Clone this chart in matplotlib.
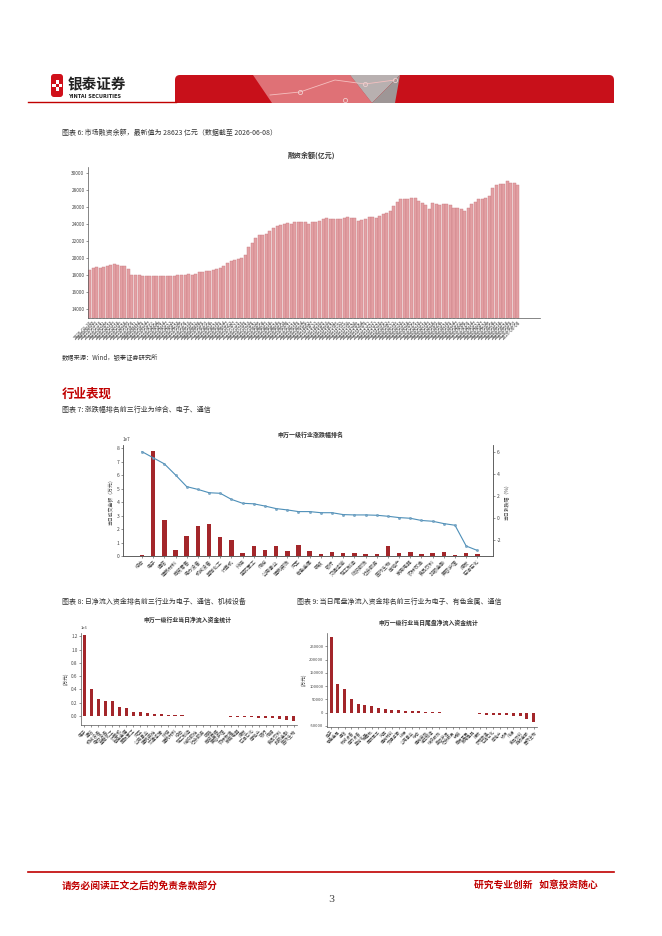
"""
Page 3 of the Yintai Securities weekly: margin balance + Shenwan industry panels.
"""
import numpy as np
import pandas as pd
import matplotlib
matplotlib.use("Agg")
import matplotlib.pyplot as plt
from matplotlib.patches import Polygon, FancyBboxPatch, Rectangle

plt.rcParams["font.family"] = ["Noto Sans CJK SC", "DejaVu Sans"]
plt.rcParams["axes.unicode_minus"] = False

W, H = 662, 936
RED = "#c00000"
BAR_RED = "#a3262a"
TXT = "#333333"

# ------------------------------------------------------------------
# data
# ------------------------------------------------------------------
margin_balance = [
    18670, 18900, 18950, 18870, 18950, 19100, 19200, 19340, 19250, 19150,
    19080, 18800, 18050, 18000, 18010, 17970, 17950, 17880, 17950, 17970,
    17960, 17980, 17960, 17950, 17960, 18010, 18040, 18080, 18150, 17990,
    18200, 18400, 18430, 18460, 18500, 18600, 18700, 18850, 19100, 19450,
    19680, 19750, 19900, 20030, 20400, 21300, 21800, 22350, 22750, 22680,
    22900, 23200, 23600, 23800, 23900, 24000, 24100, 24000, 24200, 24250,
    24280, 24300, 24050, 24200, 24300, 24400, 24650, 24780, 24600, 24620,
    24650, 24660, 24700, 24800, 24750, 24680, 24400, 24520, 24600, 24850,
    24800, 24780, 24950, 25200, 25300, 25600, 26100, 26550, 26950, 26900,
    26950, 27050, 27100, 26750, 26450, 26300, 25800, 26450, 26350, 26250,
    26400, 26350, 26200, 25950, 25900, 25800, 25550, 25900, 26350, 26600,
    26900, 27000, 27050, 27300, 28200, 28600, 28700, 28750, 29100, 28850,
    28850, 28623,
]
margin_dates = pd.bdate_range(end="2026-06-08", periods=len(margin_balance) * 3,
                              freq="B")[2::3].strftime("%Y-%m-%d").tolist()

rank_industries = [
    "综合", "电子", "通信", "建筑材料", "商贸零售", "电力设备", "机械设备",
    "基础化工", "计算机", "环保", "国防军工", "传媒", "公用事业", "建筑装饰",
    "汽车", "有色金属", "钢铁", "银行", "交通运输", "轻工制造", "纺织服饰",
    "社会服务", "医药生物", "房地产", "家用电器", "农林牧渔", "食品饮料",
    "非银金融", "美容护理", "煤炭", "石油石化",
]
rank_turnover = [  # 1e7 万元
    0.05, 7.80, 2.68, 0.42, 1.50, 2.25, 2.35, 1.38, 1.17, 0.22, 0.72,
    0.45, 0.75, 0.35, 0.80, 0.37, 0.12, 0.32, 0.20, 0.22, 0.12, 0.12,
    0.75, 0.25, 0.27, 0.12, 0.20, 0.27, 0.05, 0.22, 0.17,
]
rank_change = [  # %
    6.00, 5.45, 4.90, 3.90, 2.85, 2.60, 2.30, 2.25, 1.70, 1.35, 1.30,
    1.10, 0.87, 0.75, 0.60, 0.60, 0.50, 0.50, 0.33, 0.30, 0.30, 0.27,
    0.18, 0.06, 0.00, -0.20, -0.27, -0.48, -0.63, -2.50, -2.90,
]

inflow_industries = [
    "电子", "通信", "机械设备", "电力设备", "基础化工", "计算机", "有色金属",
    "国防军工", "汽车", "公用事业", "建筑装饰", "交通运输", "环保", "建筑材料",
    "综合", "轻工制造", "纺织服饰", "社会服务", "钢铁", "商贸零售", "美容护理",
    "农林牧渔", "家用电器", "煤炭", "石油石化", "房地产", "银行", "传媒",
    "食品饮料", "非银金融", "医药生物",
]
inflow_values = [  # 1e6 万元
    1.22, 0.40, 0.25, 0.22, 0.22, 0.14, 0.12, 0.06, 0.06, 0.045, 0.035,
    0.03, 0.02, 0.015, 0.01, 0.005, 0.002, 0.001, -0.002, -0.004, -0.006,
    -0.008, -0.010, -0.015, -0.020, -0.025, -0.030, -0.035, -0.040, -0.055,
    -0.080,
]

tail_industries = [
    "电子", "有色金属", "通信", "机械设备", "电力设备", "基础化工", "计算机",
    "国防军工", "汽车", "建筑材料", "交通运输", "环保", "公用事业", "综合",
    "建筑装饰", "轻工制造", "纺织服饰", "美容护理", "社会服务", "钢铁",
    "商贸零售", "家用电器", "煤炭", "农林牧渔", "石油石化", "房地产", "银行",
    "传媒", "食品饮料", "非银金融", "医药生物",
]
tail_values = [  # 万元
    284000, 108000, 87500, 53000, 31700, 29000, 26600, 19000, 15200, 11400,
    10100, 7600, 6300, 5000, 3800, 1500, 800, 300, -300, -800, -1500, -3000,
    -5000, -7600, -8900, -9000, -10000, -11000, -12700, -23000, -37000,
]


# ------------------------------------------------------------------
# helpers
# ------------------------------------------------------------------
def px_axes(fig, left, top, right, bottom):
    return fig.add_axes([left / W, 1 - bottom / H, (right - left) / W,
                         (bottom - top) / H])


def style_ax(ax, fs=3.6):
    for s in ax.spines.values():
        s.set_color("#555555")
        s.set_linewidth(0.5)
    ax.spines["top"].set_visible(False)
    ax.tick_params(labelsize=fs, length=1.5, width=0.4, colors="#444444",
                   pad=1)


fig = plt.figure(figsize=(W / 100, H / 100), dpi=100)
fig.patch.set_facecolor("white")

page = fig.add_axes([0, 0, 1, 1])
page.set_xlim(0, W)
page.set_ylim(H, 0)
page.axis("off")

# ------------------------------------------------------------------
# header
# ------------------------------------------------------------------
page.add_patch(FancyBboxPatch((51, 74), 12, 23, boxstyle="round,pad=0,rounding_size=3",
                              fc="#d0101a", ec="none"))
page.add_patch(Rectangle((55.5, 80), 3, 11, fc="white", ec="none"))
page.add_patch(Rectangle((52, 84), 10, 3, fc="white", ec="none"))
page.add_patch(Rectangle((55.5, 84), 3, 3, fc="#d0101a", ec="none"))
page.text(68, 84, "银泰证券", fontsize=10.5, fontweight="bold", color="#222222",
          va="center", ha="left")
page.text(68, 96.5, "YINTAI SECURITIES", fontsize=3.6, fontweight="bold",
          color="#222222", va="center", ha="left", family="DejaVu Sans")
page.plot([28, 176], [102, 102], color=RED, lw=1.0)

page.add_patch(FancyBboxPatch((175, 75), 439, 28,
                              boxstyle="round,pad=0,rounding_size=5",
                              fc="#c8101a", ec="none"))
page.add_patch(Rectangle((175, 95), 439, 8, fc="#c8101a", ec="none"))
page.add_patch(Polygon([(253, 75), (350, 75), (372, 103), (272, 103)],
                       closed=True, fc="#e58a8e", ec="none", alpha=0.8))
page.add_patch(Polygon([(350, 75), (400, 75), (372, 103)], closed=True,
                       fc="#b8b0b0", ec="none"))
page.add_patch(Polygon([(372, 103), (400, 75), (395, 103)], closed=True,
                       fc="#9e9696", ec="none"))
page.plot([270, 300, 335, 365, 395], [95, 92, 80, 84, 80], color="#f5c0c0",
          lw=0.6)
for cx, cy in [(300, 92), (365, 84), (395, 80), (345, 100)]:
    page.plot(cx, cy, "o", ms=3, mfc="none", mec="#f0d0d0", mew=0.6)

# ------------------------------------------------------------------
# chart 6: margin balance
# ------------------------------------------------------------------
page.text(62, 133, "图表 6: 市场融资余额，最新值为 28623 亿元（数据截至 2026-06-08）",
          fontsize=5, color=TXT, va="center")

ax1 = px_axes(fig, 88, 167, 540, 318)
x1 = np.arange(len(margin_balance))
ax1.bar(x1, margin_balance, width=0.85, color="#e3a0a4", edgecolor="#c97a80",
        linewidth=0.3)
ax1.set_xlim(-0.42, 127.3)
ax1.set_ylim(13000, 30700)
ax1.set_yticks(range(14000, 30001, 2000))
ax1.set_xticks(x1)
ax1.set_xticklabels(margin_dates, rotation=45, ha="right", fontsize=4.2,
                    rotation_mode="anchor", color="#666666")
style_ax(ax1, fs=3.4)
ax1.spines["right"].set_visible(False)
ax1.tick_params(axis="x", length=1.0, width=0.3, pad=0.5)
page.text(311, 155, "融资余额(亿元)", fontsize=5, color=TXT, ha="center",
          va="center", fontweight="bold")
page.text(62, 357, "数据来源：Wind，银泰证券研究所", fontsize=4.5, color=TXT,
          va="center")

# ------------------------------------------------------------------
# chart 7: industry ranking
# ------------------------------------------------------------------
page.text(62, 394, "行业表现", fontsize=9, fontweight="bold", color=RED,
          va="center")
page.text(62, 410, "图表 7: 涨跌幅排名前三行业为综合、电子、通信", fontsize=5,
          color=TXT, va="center")
page.text(310, 435, "申万一级行业涨跌幅排名", fontsize=4.3, fontweight="bold",
          color=TXT, ha="center", va="center")

ax2 = px_axes(fig, 123, 445, 493, 556)
x2 = np.arange(len(rank_industries))
ax2.bar(x2, np.array(rank_turnover) * 1e7, width=0.4, color=BAR_RED)
ax2.set_xlim(-1.7, 31.4)
ax2.set_ylim(0, 8.25e7)
ax2.set_xticks(x2)
ax2.set_xticklabels(rank_industries, rotation=45, ha="right", fontsize=3.8,
                    rotation_mode="anchor")
ax2.set_ylabel("当日成交金额（万元）", fontsize=3.5, color="#444444", labelpad=2)
style_ax(ax2)
ax2.yaxis.get_offset_text().set_fontsize(3.3)
ax2r = ax2.twinx()
ax2r.plot(x2, rank_change, color="#4d8fb8", lw=0.8, marker="o", ms=1.6,
          mfc="#7fa6c4", mec="#4d8fb8", mew=0.3)
ax2r.set_ylim(-3.4, 6.6)
ax2r.set_yticks([-2, 0, 2, 4, 6])
ax2r.set_ylabel("当日涨跌幅（%）", fontsize=3.5, color="#444444", labelpad=2)
style_ax(ax2r)

# ------------------------------------------------------------------
# chart 8: daily net inflow
# ------------------------------------------------------------------
page.text(62, 602, "图表 8: 日净流入资金排名前三行业为电子、通信、机械设备",
          fontsize=5, color=TXT, va="center")
page.text(188, 620, "申万一级行业当日净流入资金统计", fontsize=4.2,
          fontweight="bold", color=TXT, ha="center", va="center")
ax3 = px_axes(fig, 81, 633, 297, 725)
x3 = np.arange(len(inflow_industries))
ax3.bar(x3, np.array(inflow_values) * 1e6, width=0.45, color=BAR_RED)
ax3.set_xlim(-0.5, 30.5)
ax3.set_ylim(-0.135e6, 1.25e6)
ax3.set_yticks(np.arange(0, 1.21e6, 0.2e6))
ax3.set_xticks(x3)
ax3.set_xticklabels(inflow_industries, rotation=45, ha="right", fontsize=3.0,
                    rotation_mode="anchor")
ax3.set_ylabel("(万元)", fontsize=3.4, color="#444444", labelpad=2)
style_ax(ax3, fs=3.3)
ax3.spines["right"].set_visible(False)
ax3.yaxis.get_offset_text().set_fontsize(3.0)

# ------------------------------------------------------------------
# chart 9: tail-session net inflow
# ------------------------------------------------------------------
page.text(297, 602, "图表 9: 当日尾盘净流入资金排名前三行业为电子、有色金属、通信",
          fontsize=5, color=TXT, va="center")
page.text(428, 623, "申万一级行业当日尾盘净流入资金统计", fontsize=4.2,
          fontweight="bold", color=TXT, ha="center", va="center")
ax4 = px_axes(fig, 327, 633, 537, 727)
x4 = np.arange(len(tail_industries))
ax4.bar(x4, tail_values, width=0.45, color=BAR_RED)
ax4.set_xlim(-0.6, 30.5)
ax4.set_ylim(-54000, 300000)
ax4.set_yticks(range(-50000, 250001, 50000))
ax4.set_xticks(x4)
ax4.set_xticklabels(tail_industries, rotation=45, ha="right", fontsize=3.0,
                    rotation_mode="anchor")
ax4.set_ylabel("(万元)", fontsize=3.4, color="#444444", labelpad=2)
style_ax(ax4, fs=3.0)
ax4.spines["right"].set_visible(False)

# ------------------------------------------------------------------
# footer
# ------------------------------------------------------------------
page.plot([28, 614], [872, 872], color=RED, lw=1.2)
page.text(62, 886, "请务必阅读正文之后的免责条款部分", fontsize=7,
          fontweight="bold", color=RED, va="center")
page.text(598, 886, "研究专业创新   如意投资随心", fontsize=7,
          fontweight="bold", color=RED, va="center", ha="right")
page.text(331, 900, "3", fontsize=7, color="#444444", va="center",
          ha="center", family="DejaVu Serif")

fig.savefig("out.png", dpi=100)
